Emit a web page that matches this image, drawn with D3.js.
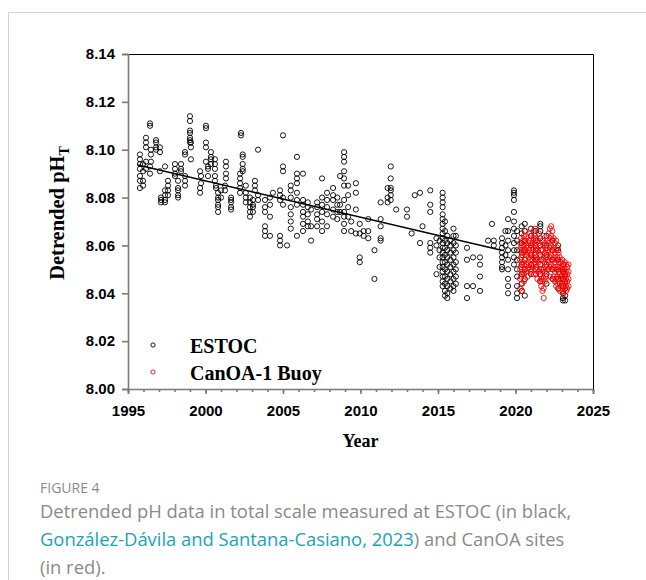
<!DOCTYPE html>
<html>
<head>
<meta charset="utf-8">
<script src="https://cdn.jsdelivr.net/npm/d3@7"></script>
<style>
  body { margin: 0; background: #fff; }
</style>
</head>
<body>
<div id="chart"></div>
<script>

// ESTOC cruises: [decimal year, [detrended pH values of that cruise]]
var estocCruises = [
  [1995.77, [8.098, 8.096, 8.094, 8.092, 8.089, 8.087, 8.084]],
  [1995.97, [8.094, 8.091, 8.087, 8.085]],
  [1996.16, [8.105, 8.103, 8.101, 8.095, 8.092]],
  [1996.42, [8.111, 8.110, 8.093, 8.090]],
  [1996.48, [8.100, 8.098, 8.095]],
  [1996.81, [8.104, 8.103, 8.101, 8.100]],
  [1997.06, [8.101, 8.099, 8.091]],
  [1997.13, [8.080, 8.079, 8.078]],
  [1997.39, [8.083, 8.081, 8.079, 8.078, 8.093]],
  [1997.58, [8.087, 8.085, 8.083, 8.081]],
  [1998.03, [8.094, 8.092, 8.090, 8.089]],
  [1998.23, [8.087, 8.084, 8.083, 8.081, 8.080]],
  [1998.42, [8.094, 8.092, 8.091]],
  [1998.68, [8.099, 8.098, 8.089, 8.087, 8.085]],
  [1999.00, [8.114, 8.112, 8.108, 8.107, 8.105, 8.104, 8.103]],
  [1999.06, [8.103, 8.101, 8.096]],
  [1999.65, [8.084, 8.082, 8.091]],
  [1999.71, [8.089, 8.086]],
  [2000.03, [8.110, 8.109, 8.103, 8.101, 8.095]],
  [2000.16, [8.093, 8.092, 8.089]],
  [2000.35, [8.099, 8.097, 8.096, 8.094]],
  [2000.61, [8.096, 8.094, 8.092, 8.089, 8.087]],
  [2000.68, [8.085, 8.084]],
  [2000.81, [8.082, 8.080, 8.079, 8.077, 8.076, 8.074]],
  [2001.00, [8.083, 8.080]],
  [2001.26, [8.085, 8.083]],
  [2001.32, [8.095, 8.093, 8.090, 8.088]],
  [2001.65, [8.080, 8.079, 8.078, 8.076, 8.075]],
  [2002.23, [8.090, 8.088, 8.086, 8.084, 8.082]],
  [2002.29, [8.107, 8.106]],
  [2002.40, [8.098, 8.097, 8.094, 8.092, 8.091]],
  [2002.60, [8.085, 8.082, 8.080, 8.078]],
  [2002.87, [8.080, 8.078, 8.076, 8.074, 8.072]],
  [2003.06, [8.079, 8.077, 8.076, 8.074]],
  [2003.19, [8.087, 8.085, 8.083]],
  [2003.39, [8.100, 8.081, 8.079]],
  [2003.84, [8.079, 8.076, 8.074, 8.068, 8.066, 8.064]],
  [2004.16, [8.080, 8.077, 8.072, 8.064]],
  [2004.35, [8.082]],
  [2004.81, [8.083, 8.081, 8.079, 8.064, 8.062, 8.060]],
  [2005.00, [8.106, 8.093, 8.091, 8.080, 8.077]],
  [2005.26, [8.060]],
  [2005.50, [8.085, 8.083, 8.080, 8.076, 8.073, 8.070, 8.067]],
  [2005.90, [8.097, 8.090, 8.088, 8.086, 8.082, 8.079, 8.077, 8.064]],
  [2006.29, [8.090, 8.079, 8.077, 8.074, 8.072, 8.069, 8.066]],
  [2006.60, [8.078, 8.076, 8.073, 8.070, 8.068]],
  [2006.81, [8.075, 8.068, 8.062]],
  [2007.20, [8.078, 8.076, 8.073, 8.071, 8.068]],
  [2007.52, [8.088, 8.080, 8.077, 8.074, 8.070, 8.066]],
  [2007.84, [8.082, 8.079, 8.076, 8.073, 8.068]],
  [2008.23, [8.084, 8.081, 8.079, 8.075, 8.072]],
  [2008.50, [8.080, 8.077, 8.074, 8.071]],
  [2008.68, [8.089, 8.077, 8.074]],
  [2008.94, [8.099, 8.097, 8.095, 8.091, 8.088, 8.085, 8.079, 8.074, 8.072, 8.069, 8.066]],
  [2009.20, [8.085, 8.081, 8.076, 8.072]],
  [2009.40, [8.070, 8.066]],
  [2009.70, [8.086, 8.082, 8.075, 8.065]],
  [2009.95, [8.069, 8.065, 8.055, 8.053]],
  [2010.20, [8.066, 8.064]],
  [2010.50, [8.071, 8.066, 8.063]],
  [2010.90, [8.058, 8.046]],
  [2011.30, [8.078, 8.071, 8.068, 8.063, 8.062]],
  [2011.75, [8.084, 8.080, 8.078]],
  [2011.95, [8.093, 8.088, 8.084, 8.083, 8.081, 8.079]],
  [2012.30, [8.075]],
  [2013.00, [8.075, 8.072]],
  [2013.30, [8.065]],
  [2013.50, [8.081]],
  [2013.84, [8.082, 8.061]],
  [2014.00, [8.068]],
  [2014.50, [8.083, 8.077, 8.074, 8.061, 8.059, 8.057]],
  [2014.90, [8.063, 8.060, 8.048]],
  [2015.10, [8.062, 8.058, 8.055, 8.051]],
  [2015.30, [8.082, 8.080, 8.078, 8.076, 8.073, 8.071, 8.069, 8.067, 8.065, 8.063, 8.061, 8.059, 8.057, 8.055, 8.053, 8.051, 8.049, 8.047, 8.045, 8.043]],
  [2015.45, [8.070, 8.066, 8.062, 8.059, 8.056, 8.053, 8.050, 8.047, 8.044, 8.041, 8.039]],
  [2015.60, [8.064, 8.061, 8.058, 8.055, 8.052, 8.049, 8.046, 8.043, 8.040, 8.038]],
  [2015.80, [8.062, 8.060, 8.057, 8.054, 8.051, 8.048, 8.045, 8.042]],
  [2016.00, [8.067, 8.064, 8.061, 8.058, 8.055, 8.052, 8.049, 8.046, 8.043, 8.041]],
  [2016.15, [8.064, 8.060, 8.057, 8.053, 8.050, 8.047, 8.044]],
  [2016.87, [8.059, 8.054, 8.043, 8.038]],
  [2017.26, [8.055, 8.043]],
  [2017.71, [8.055, 8.052, 8.047, 8.041]],
  [2018.23, [8.062]],
  [2018.48, [8.069]],
  [2018.60, [8.062, 8.060]],
  [2019.13, [8.063, 8.061, 8.059, 8.057, 8.055, 8.053, 8.051, 8.050]],
  [2019.35, [8.066, 8.060, 8.056]],
  [2019.52, [8.071, 8.066, 8.062, 8.058, 8.054, 8.050, 8.046, 8.043, 8.040]],
  [2019.90, [8.083, 8.082, 8.081, 8.079, 8.074, 8.070, 8.067, 8.064, 8.061, 8.058, 8.055, 8.052]],
  [2020.10, [8.066, 8.062, 8.058, 8.054, 8.050, 8.047, 8.043, 8.040, 8.038]],
  [2020.40, [8.068, 8.065, 8.061, 8.057, 8.052, 8.048, 8.044, 8.041]],
  [2020.60, [8.069, 8.066, 8.062, 8.058, 8.054, 8.050, 8.046, 8.039]],
  [2021.00, [8.067, 8.064, 8.060, 8.056, 8.052, 8.048]],
  [2021.30, [8.066, 8.062, 8.058, 8.054, 8.050]],
  [2021.60, [8.069, 8.068, 8.066, 8.063, 8.060, 8.056, 8.052, 8.048, 8.045]],
  [2022.00, [8.064, 8.060, 8.056, 8.052, 8.048, 8.044]],
  [2022.40, [8.062, 8.058, 8.054, 8.050, 8.046]],
  [2022.75, [8.060, 8.058, 8.054, 8.050, 8.046, 8.042]],
  [2023.06, [8.052, 8.049, 8.046, 8.043, 8.040, 8.038, 8.037]],
  [2023.20, [8.048, 8.045, 8.042, 8.039, 8.037]]
];

// CanOA-1 buoy: [decimal year, [pH values around that time]]
var canoaSamples = [
  [2020.30, [8.061, 8.058, 8.054, 8.050, 8.046, 8.042]],
  [2020.36, [8.063, 8.059, 8.055, 8.051, 8.047]],
  [2020.42, [8.060, 8.056, 8.052, 8.048, 8.044, 8.041]],
  [2020.48, [8.062, 8.058, 8.053, 8.049]],
  [2020.55, [8.064, 8.060, 8.057, 8.052, 8.048, 8.045]],
  [2020.62, [8.066, 8.062, 8.058, 8.054, 8.050]],
  [2020.70, [8.063, 8.059, 8.056, 8.052, 8.049]],
  [2020.78, [8.060, 8.057, 8.053, 8.050, 8.047]],
  [2020.86, [8.062, 8.058, 8.055, 8.051]],
  [2020.94, [8.065, 8.061, 8.057, 8.054, 8.050]],
  [2021.02, [8.064, 8.060, 8.056, 8.052, 8.049]],
  [2021.10, [8.061, 8.058, 8.054, 8.051]],
  [2021.18, [8.066, 8.063, 8.059, 8.055, 8.052, 8.048]],
  [2021.26, [8.067, 8.064, 8.060, 8.056, 8.053]],
  [2021.34, [8.063, 8.059, 8.055, 8.051, 8.048]],
  [2021.42, [8.062, 8.058, 8.054, 8.050, 8.046]],
  [2021.50, [8.065, 8.061, 8.057, 8.053, 8.049]],
  [2021.58, [8.060, 8.056, 8.052, 8.048, 8.045]],
  [2021.66, [8.058, 8.054, 8.050, 8.046, 8.043]],
  [2021.74, [8.062, 8.058, 8.054, 8.049, 8.045, 8.041]],
  [2021.82, [8.064, 8.060, 8.055, 8.050, 8.046, 8.042, 8.038]],
  [2021.90, [8.061, 8.057, 8.053, 8.049, 8.045]],
  [2021.98, [8.059, 8.055, 8.051, 8.047]],
  [2022.06, [8.062, 8.058, 8.054, 8.050]],
  [2022.14, [8.065, 8.061, 8.057, 8.053, 8.050]],
  [2022.22, [8.067, 8.063, 8.059, 8.055, 8.051, 8.047]],
  [2022.30, [8.068, 8.064, 8.060, 8.056, 8.052]],
  [2022.38, [8.066, 8.062, 8.058, 8.054, 8.050, 8.046]],
  [2022.46, [8.063, 8.059, 8.055, 8.051, 8.047]],
  [2022.54, [8.061, 8.057, 8.053, 8.049, 8.045]],
  [2022.62, [8.062, 8.058, 8.054, 8.050, 8.046, 8.043]],
  [2022.70, [8.059, 8.055, 8.051, 8.047, 8.044]],
  [2022.78, [8.057, 8.053, 8.049, 8.045, 8.042]],
  [2022.86, [8.055, 8.051, 8.048, 8.044, 8.041]],
  [2022.94, [8.053, 8.050, 8.047, 8.043]],
  [2023.02, [8.054, 8.050, 8.047, 8.044, 8.041]],
  [2023.10, [8.052, 8.049, 8.046, 8.043, 8.040]],
  [2023.18, [8.053, 8.050, 8.047, 8.044]],
  [2023.26, [8.052, 8.049, 8.046, 8.043, 8.041]],
  [2023.34, [8.051, 8.048, 8.045, 8.042]],
  [2023.42, [8.052, 8.049, 8.046, 8.043]]
];

// linear trend of the ESTOC series (end points)
var trendYears = [1995.65, 2019.1];
var trendPh = [8.0936, 8.058];

var yTicks = [8.00, 8.02, 8.04, 8.06, 8.08, 8.10, 8.12, 8.14];
var xTicks = [1995, 2000, 2005, 2010, 2015, 2020, 2025];
var xMinorTicks = d3.range(1995, 2026, 1);

var legendNames = ["ESTOC", "CanOA-1 Buoy"];
var legendColors = ["#000", "#ff0000"];

// flatten the cruises into points
function flatten(groups) {
  var out = [];
  groups.forEach(function (g) {
    g[1].forEach(function (v) { out.push({year: g[0], ph: v}); });
  });
  return out;
}
var estoc = flatten(estocCruises);
var canoa = flatten(canoaSamples);

var W = 646, H = 580;
var margin = {top: 54, left: 128},
    width = 465,
    height = 335;

var svg = d3.select("#chart").append("svg")
    .attr("width", W)
    .attr("height", H)
    .style("font-family", "'Liberation Sans', Arial, sans-serif");

// card border
svg.append("path")
    .attr("d", "M8.5," + H + "V12.5H" + W)
    .attr("fill", "none")
    .attr("stroke", "#d4d4d4")
    .attr("stroke-width", 1);

var g = svg.append("g")
    .attr("transform", "translate(" + margin.left + "," + margin.top + ")");

var x = d3.scaleLinear().domain([1995, 2025]).range([0, width]);
var y = d3.scaleLinear().domain([8.00, 8.14]).range([height, 0]);

// top and right frame
g.append("path")
    .attr("d", "M0,0.5H" + (width + 0.5) + "V" + height)
    .attr("fill", "none")
    .attr("stroke", "#000")
    .attr("stroke-width", 1);

// minor x ticks
g.append("g")
    .attr("class", "axis")
    .attr("transform", "translate(0," + height + ")")
    .call(d3.axisBottom(x).tickValues(xMinorTicks).tickSize(3).tickFormat(""))
    .call(function (a) { a.select(".domain").remove(); });

// x axis
var xAxis = g.append("g")
    .attr("class", "axis")
    .attr("transform", "translate(0," + height + ")")
    .call(d3.axisBottom(x).tickValues(xTicks).tickSize(5).tickPadding(11).tickFormat(d3.format("d")));

// y axis
var yAxis = g.append("g")
    .attr("class", "axis")
    .call(d3.axisLeft(y).tickValues(yTicks).tickSize(6).tickPadding(7).tickFormat(d3.format(".2f")));

g.selectAll(".axis path, .axis line")
    .attr("stroke", "#7a7a7a")
    .attr("stroke-width", 1.6);
g.selectAll(".axis text")
    .attr("fill", "#000")
    .style("font-size", "15px")
    .style("font-weight", "bold")
    .style("font-family", "'Liberation Sans', Arial, sans-serif");

// ESTOC points
g.append("g").selectAll("circle")
    .data(estoc)
    .enter()
    .append("circle")
    .attr("cx", function (d) { return x(d.year); })
    .attr("cy", function (d) { return y(d.ph); })
    .attr("r", 2.6)
    .attr("fill", "none")
    .attr("stroke", "#000")
    .attr("stroke-width", 0.9);

// trend line
var trend = trendYears.map(function (t, i) { return [t, trendPh[i]]; });
g.append("path")
    .datum(trend)
    .attr("d", d3.line()
        .x(function (d) { return x(d[0]); })
        .y(function (d) { return y(d[1]); }))
    .attr("fill", "none")
    .attr("stroke", "#000")
    .attr("stroke-width", 1.5);

// CanOA-1 buoy points
g.append("g").selectAll("circle")
    .data(canoa)
    .enter()
    .append("circle")
    .attr("cx", function (d) { return x(d.year); })
    .attr("cy", function (d) { return y(d.ph); })
    .attr("r", 2.6)
    .attr("fill", "none")
    .attr("stroke", "#ff0000")
    .attr("stroke-width", 0.9);

// legend
var legend = g.selectAll(".legend")
    .data(legendNames)
    .enter()
    .append("g")
    .attr("class", "legend")
    .attr("transform", function (d, i) { return "translate(25," + (291 + i * 27) + ")"; });

legend.append("circle")
    .attr("r", 2.1)
    .attr("fill", "none")
    .attr("stroke", function (d, i) { return legendColors[i]; })
    .attr("stroke-width", 0.9);

legend.append("text")
    .attr("x", 37)
    .attr("y", 8)
    .style("font-family", "'Liberation Serif', 'Times New Roman', serif")
    .style("font-weight", "bold")
    .style("font-size", "20px")
    .text(function (d) { return d; });

// axis titles
svg.append("text")
    .attr("x", margin.left + width / 2)
    .attr("y", 447)
    .attr("text-anchor", "middle")
    .style("font-family", "'Liberation Serif', 'Times New Roman', serif")
    .style("font-weight", "bold")
    .style("font-size", "18px")
    .text("Year");

var ylab = svg.append("text")
    .attr("transform", "translate(64,213) rotate(-90)")
    .attr("text-anchor", "middle")
    .style("font-family", "'Liberation Serif', 'Times New Roman', serif")
    .style("font-weight", "bold")
    .style("font-size", "20.5px");
ylab.append("tspan").text("Detrended pH");
ylab.append("tspan")
    .attr("dy", 5)
    .style("font-size", "14px")
    .text("T");

// caption
var cap = svg.append("g")
    .style("font-family", "'Open Sans', 'Noto Sans', sans-serif");

cap.append("text")
    .attr("x", 40)
    .attr("y", 493)
    .style("font-size", "14px")
    .style("fill", "#8a8a8a")
    .text("FIGURE 4");

var capLines = [
  [["Detrended pH data in total scale measured at ESTOC (in black,", "#8a8a8a"]],
  [["González-Dávila and Santana-Casiano, 2023", "#1aa3b8"], [") and CanOA sites", "#8a8a8a"]],
  [["(in red).", "#8a8a8a"]]
];
capLines.forEach(function (line, i) {
  var t = cap.append("text")
      .attr("x", 40)
      .attr("y", 518 + i * 28)
      .style("font-size", "18.4px");
  line.forEach(function (part) {
    t.append("tspan").style("fill", part[1]).text(part[0]);
  });
});

</script>
</body>
</html>
